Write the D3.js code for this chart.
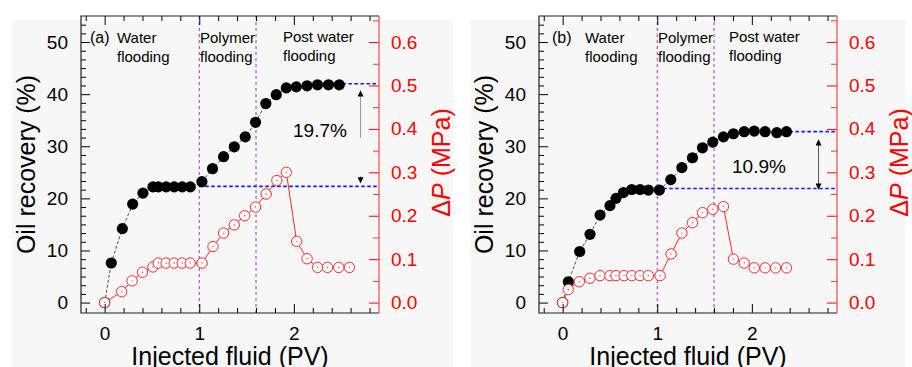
<!DOCTYPE html>
<html>
<head>
<meta charset="utf-8">
<script src="https://cdn.jsdelivr.net/npm/d3@7/dist/d3.min.js"></script>
<style>
  html, body { margin: 0; padding: 0; background: #fff; }
  svg { display: block; }
  text { font-family: "Liberation Sans", Arial, sans-serif; }
</style>
</head>
<body>
<svg id="chart" width="912" height="367"></svg>
<script>
// ---- Core flooding test (a): oil recovery and pressure drop ----
const pvOilA = [0, 0.07, 0.187, 0.296, 0.405, 0.51, 0.567, 0.65, 0.735, 0.82, 0.905, 1.028, 1.14, 1.257, 1.37, 1.486, 1.595, 1.704, 1.814, 1.92, 2.026, 2.14, 2.25, 2.366, 2.48];
const oilA   = [0, 7.6, 14.2, 18.9, 21.0, 22.2, 22.2, 22.2, 22.2, 22.2, 22.2, 23.2, 25.7, 28.0, 29.9, 31.8, 34.6, 38.2, 39.9, 41.2, 41.4, 41.6, 41.8, 41.8, 41.8];
const pvDpA  = [0, 0.18, 0.29, 0.40, 0.51, 0.567, 0.65, 0.735, 0.82, 0.905, 1.03, 1.145, 1.257, 1.37, 1.48, 1.595, 1.707, 1.82, 1.92, 2.03, 2.14, 2.25, 2.355, 2.475, 2.587];
const dpA    = [0, 0.025, 0.05, 0.07, 0.082, 0.091, 0.091, 0.091, 0.091, 0.091, 0.091, 0.129, 0.16, 0.179, 0.2, 0.22, 0.25, 0.281, 0.30, 0.141, 0.101, 0.081, 0.081, 0.081, 0.081];

// ---- Core flooding test (b) ----
const pvOilB = [0, 0.06, 0.18, 0.289, 0.395, 0.5, 0.564, 0.642, 0.73, 0.818, 0.906, 1.022, 1.143, 1.26, 1.372, 1.478, 1.587, 1.70, 1.805, 1.919, 2.025, 2.14, 2.264, 2.366];
const oilB   = [0, 4.0, 9.8, 13.1, 16.8, 18.6, 20.0, 21.1, 21.7, 21.7, 21.6, 21.6, 23.6, 25.9, 27.8, 29.7, 30.8, 31.8, 32.4, 32.8, 32.9, 32.8, 32.6, 32.8];
const pvDpB  = [0, 0.06, 0.176, 0.289, 0.395, 0.5, 0.564, 0.649, 0.73, 0.818, 0.906, 1.03, 1.146, 1.26, 1.372, 1.478, 1.587, 1.70, 1.805, 1.919, 2.025, 2.14, 2.25, 2.366];
const dpB    = [0, 0.03, 0.048, 0.056, 0.062, 0.062, 0.062, 0.062, 0.062, 0.062, 0.062, 0.062, 0.112, 0.16, 0.184, 0.207, 0.215, 0.221, 0.10, 0.091, 0.080, 0.080, 0.080, 0.080];

// Flooding stage boundaries (PV) and recovery levels for the increment arrows
const stageBounds = [1.0, 1.6];
const levelsA = { water: 22.3, post: 42.0, startPost: 2.26, gain: "19.7%" };
const levelsB = { water: 21.9, post: 32.8, startPost: 2.27, gain: "10.9%" };

// Axis tick values
const xMajor = [0, 1, 2];
const yLeftMajor = [0, 10, 20, 30, 40, 50];
const yRightMajor = [0.0, 0.1, 0.2, 0.3, 0.4, 0.5, 0.6];

const svg = d3.select("#chart");
const FONT = '"Liberation Sans", Arial, sans-serif';
const RED = "#ff0000";

// Arrowhead marker
const defs = svg.append("defs");
defs.append("marker").attr("id", "ah")
  .attr("viewBox", "0 0 8 8").attr("refX", 8).attr("refY", 4)
  .attr("markerWidth", 7).attr("markerHeight", 6)
  .attr("markerUnits", "userSpaceOnUse").attr("orient", "auto-start-reverse")
  .append("path").attr("d", "M0,0 L8,4 L0,8 Z").attr("fill", "#000");

function drawPanel(cfg) {
  const L = cfg.left, R = cfg.left + 298, T = 16, B = 313;

  // light panel backdrop
  svg.append("rect").attr("x", cfg.bg[0]).attr("y", 20)
    .attr("width", cfg.bg[1] - cfg.bg[0]).attr("height", 347)
    .attr("fill", "#f7f7f7");

  const x = d3.scaleLinear().domain([-0.25, 2.9]).range([L, R]);
  const yL = d3.scaleLinear().domain([-2, 55]).range([B, T]);
  const yR = d3.scaleLinear().domain([-0.024, 0.66]).range([B, T]);

  const g = svg.append("g");

  // stage boundaries
  stageBounds.forEach(v => {
    g.append("line").attr("x1", x(v)).attr("x2", x(v)).attr("y1", T).attr("y2", B)
      .attr("stroke", "#9b35c8").attr("stroke-width", 1).attr("stroke-dasharray", "3,3");
  });

  // recovery level guides
  const lv = cfg.levels;
  g.append("line").attr("x1", x(stageBounds[0])).attr("x2", R - 2)
    .attr("y1", yL(lv.water)).attr("y2", yL(lv.water))
    .attr("stroke", "#1515ff").attr("stroke-width", 1.6).attr("stroke-dasharray", "3.5,2.5");
  g.append("line").attr("x1", x(lv.startPost)).attr("x2", R - 2)
    .attr("y1", yL(lv.post)).attr("y2", yL(lv.post))
    .attr("stroke", "#1515ff").attr("stroke-width", 1.6).attr("stroke-dasharray", "3.5,2.5");

  // oil recovery curve
  const oilPts = cfg.pvOil.map((p, i) => [p, cfg.oil[i]]);
  g.append("path").datum(oilPts)
    .attr("d", d3.line().x(d => x(d[0])).y(d => yL(d[1])))
    .attr("fill", "none").attr("stroke", "#222").attr("stroke-width", 0.8)
    .attr("stroke-dasharray", "3,2");
  g.selectAll(".oil").data(oilPts).enter().append("circle")
    .attr("cx", d => x(d[0])).attr("cy", d => yL(d[1])).attr("r", 5.6)
    .attr("fill", "#000");

  // pressure drop curve
  const dpPts = cfg.pvDp.map((p, i) => [p, cfg.dp[i]]);
  g.append("path").datum(dpPts)
    .attr("d", d3.line().x(d => x(d[0])).y(d => yR(d[1])))
    .attr("fill", "none").attr("stroke", "#ff2a2a").attr("stroke-width", 1);
  g.selectAll(".dp").data(dpPts).enter().append("circle")
    .attr("cx", d => x(d[0])).attr("cy", d => yR(d[1])).attr("r", 5.2)
    .attr("fill", "#fff").attr("stroke", "#ff2a2a").attr("stroke-width", 1);
  g.selectAll(".dpc").data(dpPts).enter().append("circle")
    .attr("cx", d => x(d[0])).attr("cy", d => yR(d[1])).attr("r", 0.7)
    .attr("fill", "#ff4040");

  // axes (ticks point inward)
  const xMinor = d3.range(-0.2, 2.85, 0.2).filter(v => Math.abs(v - Math.round(v)) > 1e-6);
  const yMinor = d3.range(0, 55, 10 / 6).filter(v => Math.abs(v / 10 - Math.round(v / 10)) > 1e-6);
  const rMinor = d3.range(0.05, 0.66, 0.1);

  function styleAxis(sel, color) {
    sel.select(".domain").remove();
    sel.selectAll("line").attr("stroke", color).attr("stroke-width", 1);
    sel.selectAll("text").attr("font-family", FONT).attr("font-size", 19).attr("fill", color);
  }

  styleAxis(svg.append("g").attr("transform", `translate(0,${B})`)
    .call(d3.axisBottom(x).tickValues(xMajor).tickSize(-9).tickPadding(14).tickFormat(d3.format("d"))), "#000");
  styleAxis(svg.append("g").attr("transform", `translate(0,${B})`)
    .call(d3.axisBottom(x).tickValues(xMinor).tickSize(-5).tickFormat("")), "#000");
  styleAxis(svg.append("g").attr("transform", `translate(0,${T})`)
    .call(d3.axisTop(x).tickValues(xMajor).tickSize(-9).tickFormat("")), "#000");
  styleAxis(svg.append("g").attr("transform", `translate(0,${T})`)
    .call(d3.axisTop(x).tickValues(xMinor).tickSize(-5).tickFormat("")), "#000");
  styleAxis(svg.append("g").attr("transform", `translate(${L},0)`)
    .call(d3.axisLeft(yL).tickValues(yLeftMajor).tickSize(-9).tickPadding(13).tickFormat(d3.format("d"))), "#000");
  styleAxis(svg.append("g").attr("transform", `translate(${L},0)`)
    .call(d3.axisLeft(yL).tickValues(yMinor).tickSize(-5).tickFormat("")), "#000");
  styleAxis(svg.append("g").attr("transform", `translate(${R},0)`)
    .call(d3.axisRight(yR).tickValues(yRightMajor).tickSize(-10).tickPadding(12).tickFormat(d3.format(".1f"))), RED);
  styleAxis(svg.append("g").attr("transform", `translate(${R},0)`)
    .call(d3.axisRight(yR).tickValues(rMinor).tickSize(-6).tickFormat("")), "#ff3030");

  // frame
  svg.append("path").attr("d", `M${R},${T} L${L},${T} L${L},${B} L${R},${B}`)
    .attr("fill", "none").attr("stroke", "#222").attr("stroke-width", 1.2);
  svg.append("line").attr("x1", R).attr("x2", R).attr("y1", T).attr("y2", B)
    .attr("stroke", "#ff4545").attr("stroke-width", 1.2);

  // axis titles
  svg.append("text").attr("transform", `translate(${L - 46},${(T + B) / 2}) rotate(-90)`)
    .attr("text-anchor", "middle").attr("font-size", 25).attr("fill", "#000")
    .text("Oil recovery (%)");
  const rt = svg.append("text").attr("transform", `translate(${R + 71},${(T + B) / 2 - 2}) rotate(-90)`)
    .attr("text-anchor", "middle").attr("font-size", 25).attr("fill", RED);
  rt.append("tspan").text("Δ");
  rt.append("tspan").attr("font-style", "italic").text("P");
  rt.append("tspan").text(" (MPa)");
  svg.append("text").attr("x", (L + R) / 2).attr("y", 365)
    .attr("text-anchor", "middle").attr("font-size", 25).attr("fill", "#000")
    .text("Injected fluid (PV)");

  // stage labels
  const lab = (tx, ty, s, fs) => svg.append("text").attr("x", tx).attr("y", ty)
    .attr("font-size", fs || 15).attr("fill", "#000").text(s);
  lab(L + cfg.tag[0], 43, cfg.tag[1], 16);
  lab(L + cfg.water, 43, "Water"); lab(L + cfg.water, 62, "flooding");
  lab(L + cfg.poly, 43, "Polymer"); lab(L + cfg.poly, 62, "flooding");
  lab(L + cfg.post, 42, "Post water"); lab(L + cfg.post, 61, "flooding");

  // incremental recovery annotation
  svg.append("text").attr("x", L + cfg.gainPos[0]).attr("y", cfg.gainPos[1])
    .attr("font-size", 19).attr("fill", "#000").text(lv.gain);
  const ax = x(2.705);
  cfg.arrows.forEach(a => {
    svg.append("line").attr("x1", ax).attr("x2", ax)
      .attr("y1", yL(a[0])).attr("y2", yL(a[1]))
      .attr("stroke", a[3] || "#999").attr("stroke-width", 1)
      .attr("marker-end", "url(#ah)")
      .attr("marker-start", a[2] ? "url(#ah)" : null);
  });
}

drawPanel({
  left: 81, bg: [12, 453], pvOil: pvOilA, oil: oilA, pvDp: pvDpA, dp: dpA,
  levels: levelsA, tag: [9, "(a)"], water: 36, poly: 119, post: 202,
  gainPos: [212, 137],
  arrows: [[31.6, 40.7, false], [24.3, 22.9, false]]
});
drawPanel({
  left: 539, bg: [470, 906], pvOil: pvOilB, oil: oilB, pvDp: pvDpB, dp: dpB,
  levels: levelsB, tag: [13, "(b)"], water: 46, poly: 119, post: 190,
  gainPos: [193, 173],
  arrows: [[21.7, 31.3, true, "#555"]]
});
</script>
</body>
</html>
